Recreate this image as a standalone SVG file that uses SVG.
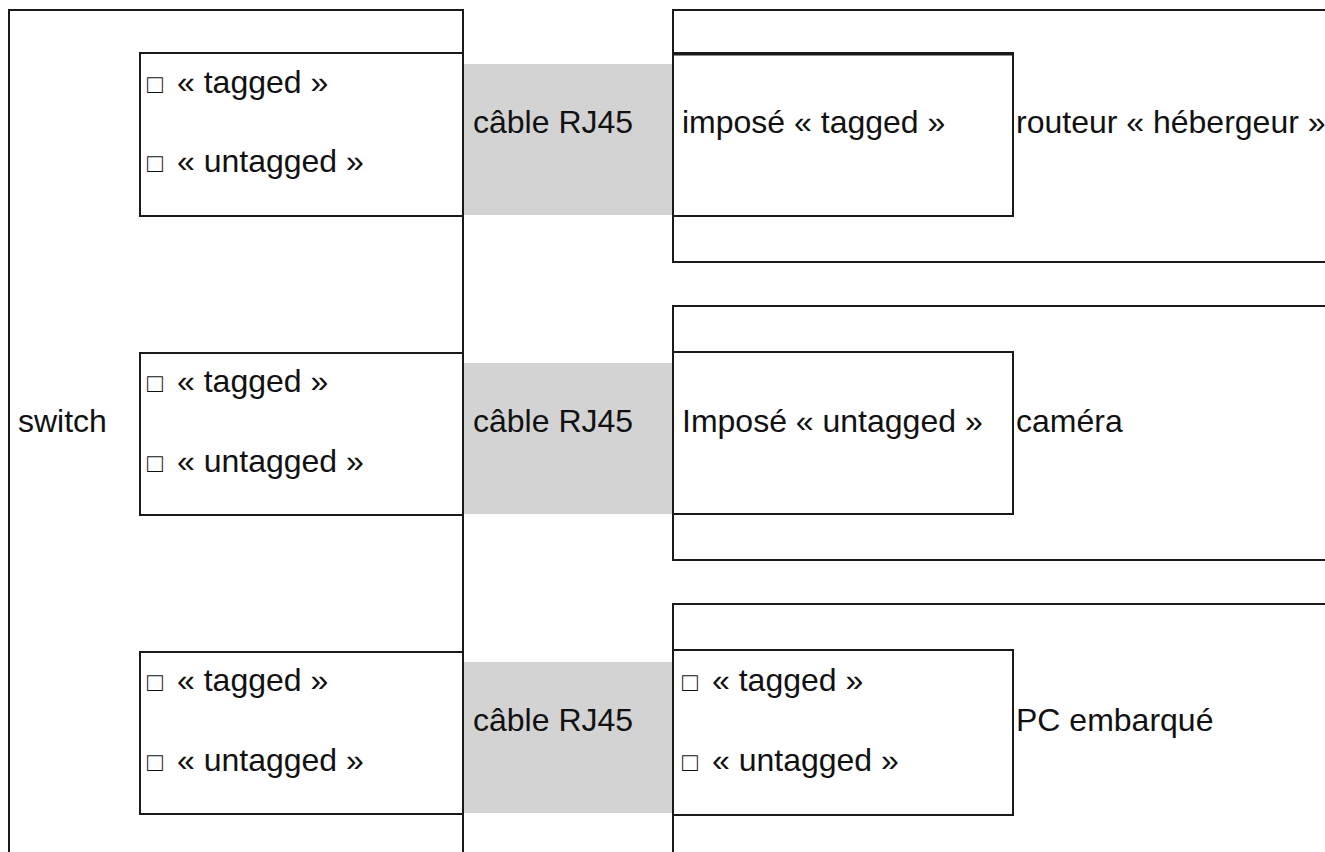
<svg xmlns="http://www.w3.org/2000/svg" width="1325" height="852" viewBox="0 0 1325 852">
  <style>
    .box { fill: none; stroke: #1a1a1a; stroke-width: 2; }
    .cable { fill: #d3d3d3; stroke: none; }
    .t { font-family: "Liberation Sans", Arial, sans-serif; font-size: 32px; fill: #111111; }
    .sq { font-size: 26px; }
  </style>
  <rect width="1325" height="852" fill="#ffffff"/>

  <!-- RJ45 cables linking switch ports to device ports -->
  <g id="connectors">
    <rect class="cable" x="464" y="64" width="209" height="151"/>
    <rect class="cable" x="464" y="363" width="209" height="151"/>
    <rect class="cable" x="464" y="662" width="209" height="151"/>
    <text class="t" x="473" y="133">câble RJ45</text>
    <text class="t" x="473" y="432">câble RJ45</text>
    <text class="t" x="473" y="731">câble RJ45</text>
  </g>

  <!-- Switch with its three ports -->
  <g id="switch">
    <rect class="box" x="9" y="10" width="454" height="900"/>
    <text class="t" x="18" y="432">switch</text>
  </g>
  <g id="switch-port-1">
    <rect class="box" x="140" y="53" width="323" height="163"/>
    <text class="t" x="147" y="93"><tspan class="sq">□</tspan><tspan x="177">« tagged »</tspan></text>
    <text class="t" x="147" y="172"><tspan class="sq">□</tspan><tspan x="177">« untagged »</tspan></text>
  </g>
  <g id="switch-port-2">
    <rect class="box" x="140" y="353" width="323" height="162"/>
    <text class="t" x="147" y="392"><tspan class="sq">□</tspan><tspan x="177">« tagged »</tspan></text>
    <text class="t" x="147" y="472"><tspan class="sq">□</tspan><tspan x="177">« untagged »</tspan></text>
  </g>
  <g id="switch-port-3">
    <rect class="box" x="140" y="652" width="323" height="162"/>
    <text class="t" x="147" y="691"><tspan class="sq">□</tspan><tspan x="177">« tagged »</tspan></text>
    <text class="t" x="147" y="771"><tspan class="sq">□</tspan><tspan x="177">« untagged »</tspan></text>
  </g>

  <!-- Host router -->
  <g id="routeur">
    <rect class="box" x="673" y="10" width="700" height="252"/>
    <text class="t" x="1016" y="133">routeur « hébergeur »</text>
  </g>
  <g id="routeur-port">
    <rect class="box" x="673" y="53" width="340" height="163"/>
    <line x1="673" y1="54" x2="1013" y2="54" stroke="#1a1a1a" stroke-width="3"/>
    <text class="t" x="682" y="133">imposé « tagged »</text>
  </g>

  <!-- Camera -->
  <g id="camera">
    <rect class="box" x="673" y="306" width="700" height="254"/>
    <text class="t" x="1016" y="432">caméra</text>
  </g>
  <g id="camera-port">
    <rect class="box" x="673" y="352" width="340" height="162"/>
    <text class="t" x="682" y="432">Imposé « untagged »</text>
  </g>

  <!-- Onboard PC -->
  <g id="pc">
    <rect class="box" x="673" y="604" width="700" height="400"/>
    <text class="t" x="1016" y="731">PC embarqué</text>
  </g>
  <g id="pc-port">
    <rect class="box" x="673" y="650" width="340" height="165"/>
    <text class="t" x="682" y="691"><tspan class="sq">□</tspan><tspan x="712">« tagged »</tspan></text>
    <text class="t" x="682" y="771"><tspan class="sq">□</tspan><tspan x="712">« untagged »</tspan></text>
  </g>
</svg>
